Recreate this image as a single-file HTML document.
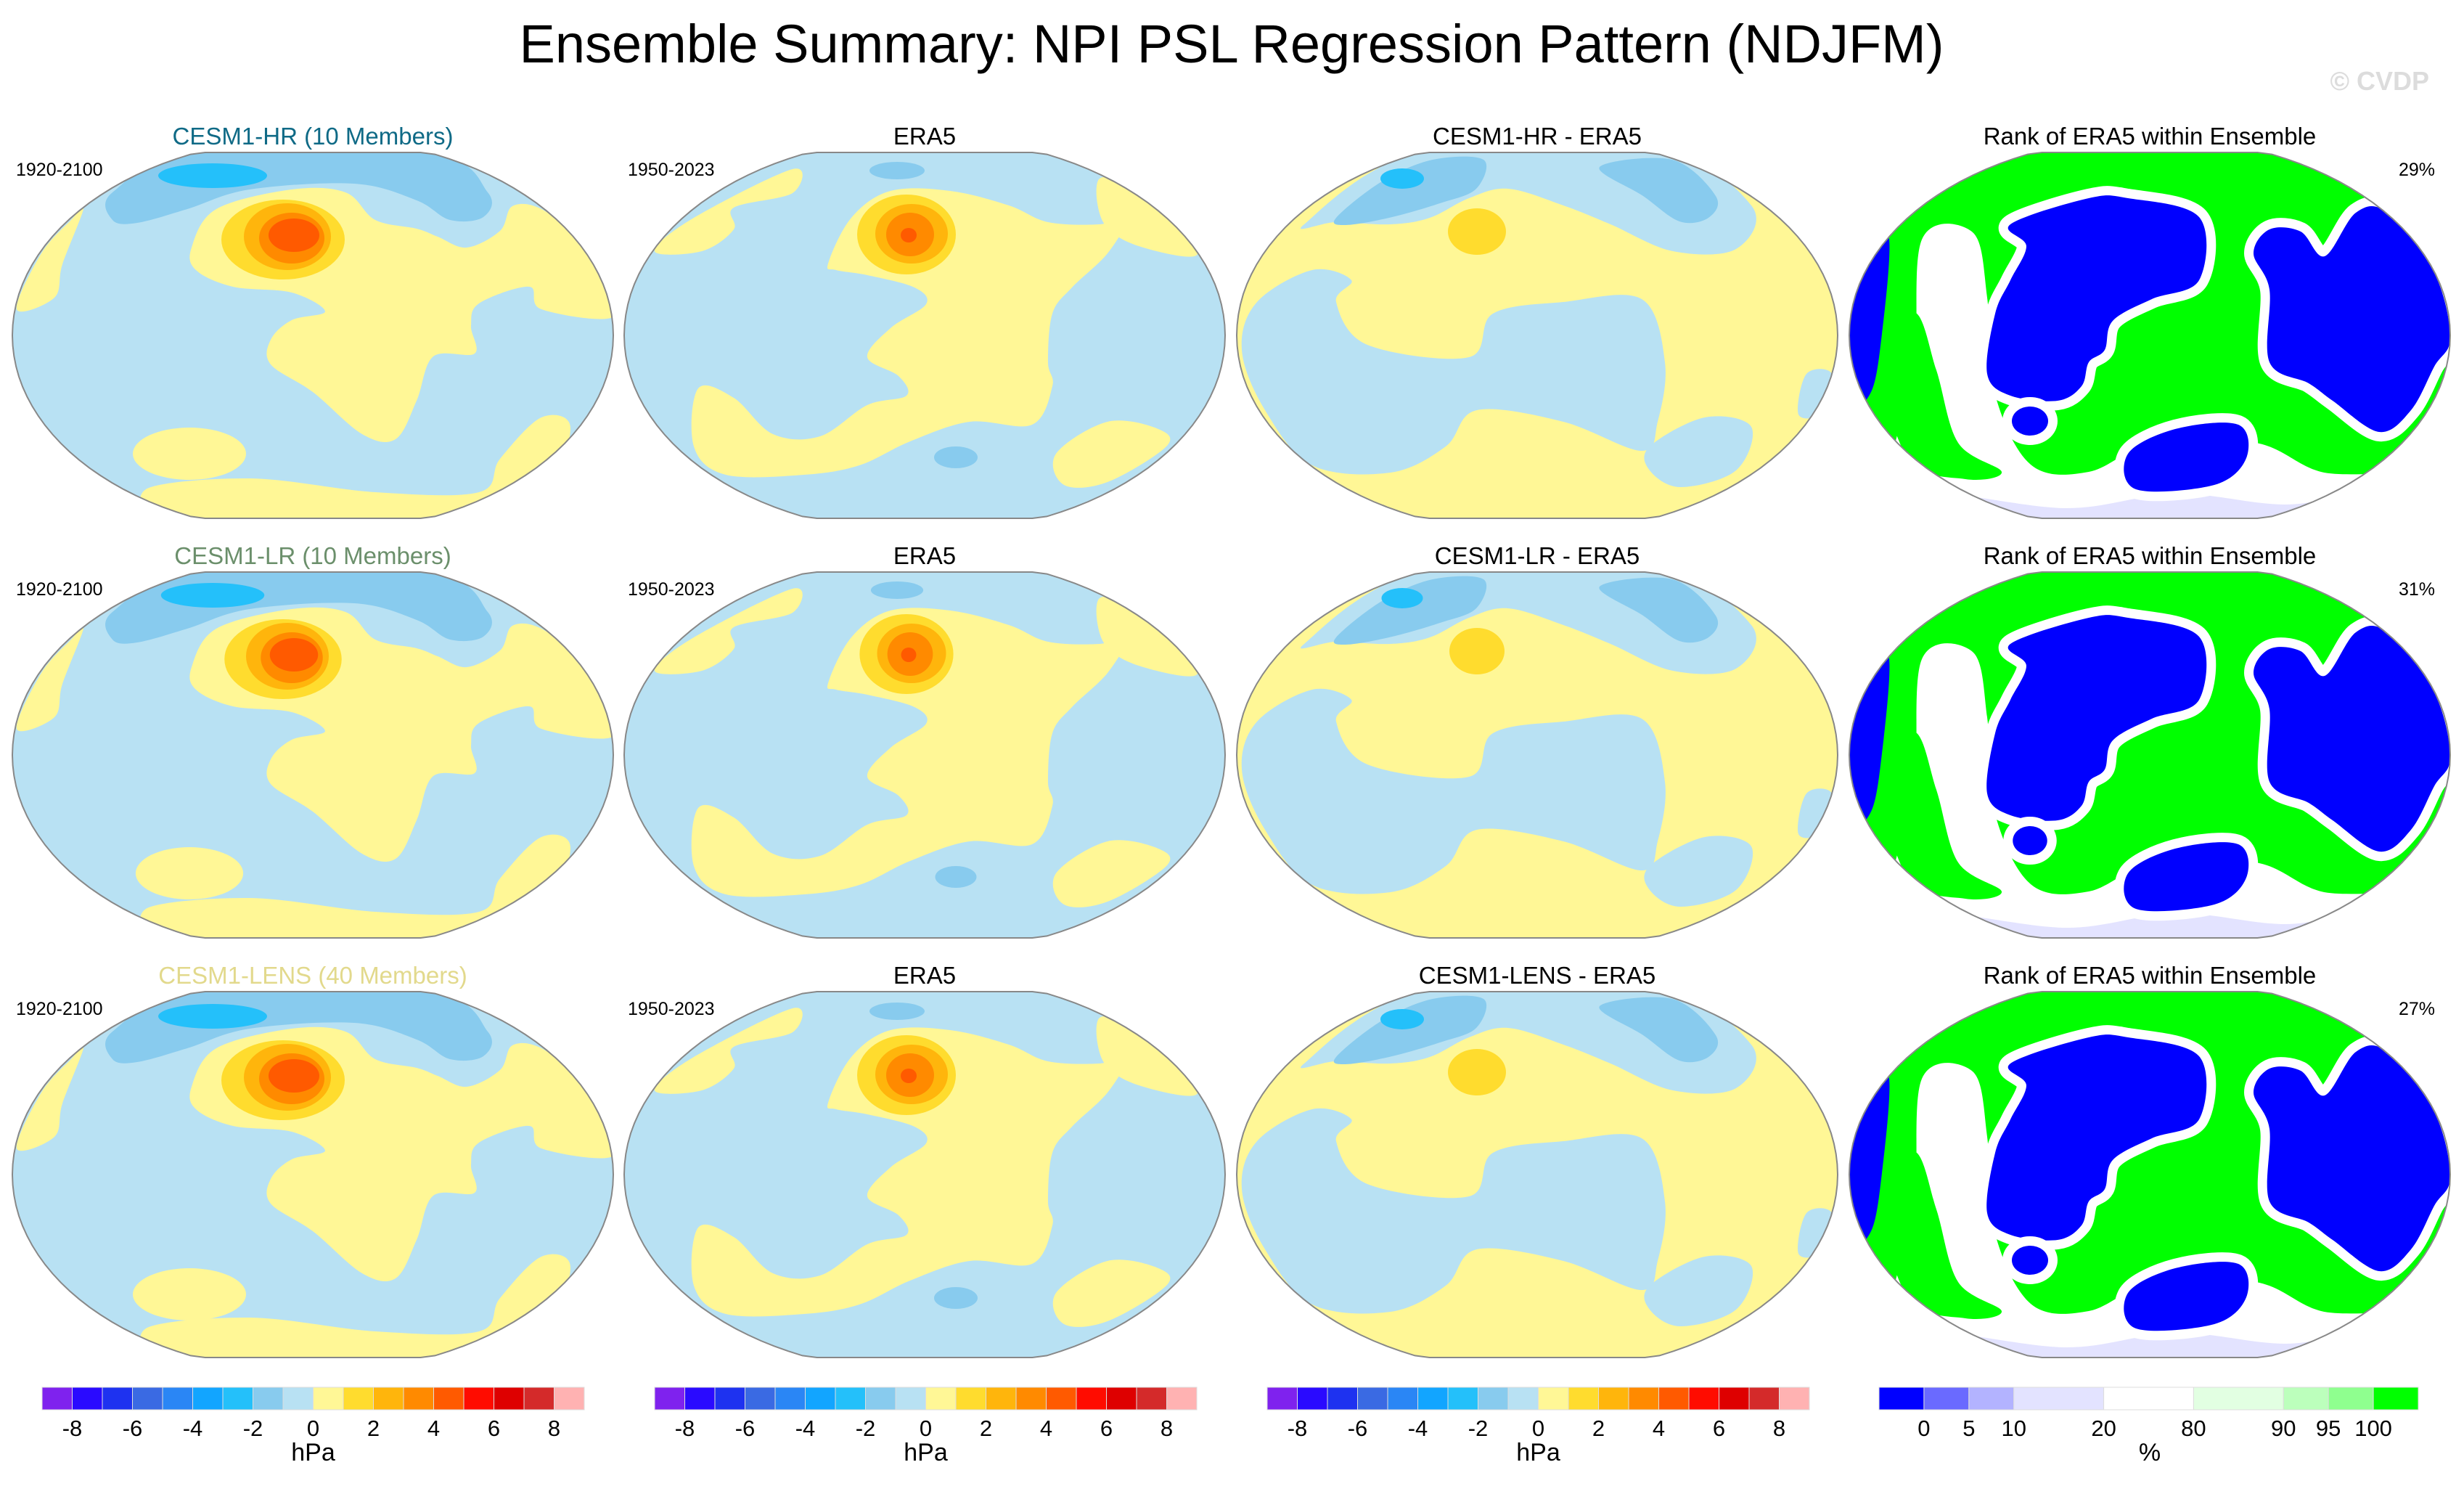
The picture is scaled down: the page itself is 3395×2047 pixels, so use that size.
<!DOCTYPE html>
<html><head><meta charset="utf-8"><style>
html,body{margin:0;padding:0;background:#fff;}
svg{display:block;font-family:"Liberation Sans",Arial,sans-serif;}
</style></head><body>
<svg id="chart" width="3395" height="2047" viewBox="0 0 3395 2047" xmlns="http://www.w3.org/2000/svg">
<text x="1697" y="86" font-size="74" text-anchor="middle" fill="#000">Ensemble Summary: NPI PSL Regression Pattern (NDJFM)</text>
<text x="3347" y="124" font-size="36" font-weight="bold" text-anchor="end" fill="#dcdcdc">© CVDP</text>
<g id="maps"></g>
<g id="bars"></g>
</svg>
<script>
const NS="http://www.w3.org/2000/svg";
const rowTitles=["CESM1-HR (10 Members)","CESM1-LR (10 Members)","CESM1-LENS (40 Members)"];
const rowTitleColors=["#0f6a86","#6b8f6b","#e2d98c"];
const diffTitles=["CESM1-HR - ERA5","CESM1-LR - ERA5","CESM1-LENS - ERA5"];
const rankPercents=["29%","31%","27%"];
const modelYears="1920-2100";
const obsYears="1950-2023";
const hpaColors=["#7f22ee","#2a0aff","#1e32f0","#3a6ae3","#2a86f5","#12a5ff","#24c0fa","#88cbee","#b8e1f3","#fff796","#ffdc2e","#ffb50c","#ff8a00","#ff5a00","#ff0c00","#de0000","#d42a2a","#ffb2b2"];
const hpaTicks=[-8,-6,-4,-2,0,2,4,6,8];
const rankColors=["#0000ff","#6a6aff","#b3b3ff","#e3e3ff","#ffffff","#e2ffe2","#bcffbc","#8fff8f","#00ff00"];
const rankUnits=[1,1,1,2,2,2,1,1,1];
const rankTicks=["0","5","10","20","80","90","95","100"];

const C={lb:"#b8e1f3",y:"#fff796",b2:"#88cbee",b3:"#24c0fa",g1:"#ffdc2e",g2:"#ffb50c",g3:"#ff8a00",g4:"#ff5a00",
 B:"#0000ff",G:"#00ff00",W:"#ffffff",L:"#e3e3ff"};
const shapes={
 psl:[
  {f:C.lb,rect:1},
  {f:C.b2,p:[[138,93],[138,55],[253,1],[574,1],[655,55],[649,89],[603,93],[557,66],[471,43],[327,51],[241,78],[172,97]]},
  {f:C.b3,e:[276,32,75,17]},
  {f:C.y,p:[[247,131],[281,78],[385,51],[459,55],[500,93],[557,105],[586,116],[626,131],[672,108],[689,74],[729,78],[787,124],[821,170],[827,227],[729,216],[712,185],[643,208],[632,239],[637,277],[580,281],[557,342],[528,395],[482,388],[414,330],[356,292],[356,258],[385,231],[431,219],[385,193],[304,185],[253,162]]},
  {f:C.y,e:[244,415,78,36]},
  {f:C.y,p:[[184,464],[327,449],[500,468],[643,468],[672,422],[729,365],[769,380],[729,476],[614,506],[241,506]]},
  {f:C.y,p:[[6,216],[40,139],[81,93],[98,78],[69,154],[58,200]]},
  {f:C.g1,e:[373,120,85,55]},{f:C.g2,e:[379,116,60,46]},{f:C.g3,e:[385,118,45,35]},{f:C.g4,e:[388,114,35,23]}
 ],
 era:[
  {f:C.lb,rect:1},
  {f:C.y,p:[[281,153],[313,90],[367,53],[449,53],[530,73],[584,96],[655,99],[693,90],[666,139],[617,186],[590,222],[584,289],[590,322],[562,375],[476,371],[394,398],[324,431],[248,444],[140,444],[96,405],[102,325],[151,338],[205,388],[270,391],[335,348],[389,335],[378,308],[335,282],[367,242],[416,209],[400,186],[335,169],[292,162]]},
  {f:C.y,p:[[655,36],[709,56],[790,139],[709,129],[660,96]]},
  {f:C.y,p:[[42,136],[96,90],[232,23],[232,56],[151,76],[151,106],[107,136]]},
  {f:C.y,p:[[595,415],[666,371],[736,381],[747,405],[666,454],[606,458]]},
  {f:C.b2,e:[376,25,38,12]},{f:C.b2,e:[457,420,30,15]},
  {f:C.g1,e:[389,113,68,55]},{f:C.g2,e:[396,112,50,41]},{f:C.g3,e:[394,113,33,30]},{f:C.g4,e:[392,114,11,10]}
 ],
 diff:[
  {f:C.y,rect:1},
  {f:C.lb,p:[[93,99],[255,0],[580,0],[709,73],[688,133],[601,136],[515,99],[450,73],[374,50],[320,63],[266,90],[212,99],[137,96]]},
  {f:C.b2,p:[[137,90],[200,40],[270,10],[340,10],[330,50],[280,70],[210,90],[150,100]]},
  {f:C.b2,p:[[500,20],[600,10],[660,60],[650,90],[610,95],[560,60]]},
  {f:C.lb,p:[[28,206],[104,162],[158,176],[137,206],[180,265],[320,282],[353,222],[450,206],[558,202],[590,289],[580,371],[558,411],[450,371],[331,355],[288,405],[212,441],[104,431],[39,355],[7,272]]},
  {f:C.lb,p:[[569,405],[645,365],[709,378],[688,438],[612,461],[569,438]]},
  {f:C.lb,p:[[785,305],[820,305],[807,358],[774,361]]},
  {f:C.b3,e:[228,36,30,14]},
  {f:C.g1,e:[331,109,40,32]}
 ],
 rank:[
  {f:C.G,rect:1},
  {f:C.W,p:[[100,120],[170,110],[190,200],[200,330],[250,430],[330,440],[420,400],[560,400],[650,440],[760,450],[720,520],[100,520],[60,430],[90,300]]},
  {f:C.L,p:[[120,470],[300,490],[450,470],[600,485],[720,470],[680,520],[180,520]]},
  {f:C.G,p:[[40,270],[90,220],[120,300],[150,400],[210,440],[160,450],[80,420]]},
  {f:C.G,p:[[330,290],[360,250],[420,200],[490,190],[560,200],[570,330],[540,380],[470,380],[420,410],[370,400],[340,350]]},
  {f:C.G,e:[690,390,45,40]},
  {f:C.B,s:1,p:[[222,99],[330,63],[384,63],[482,89],[482,176],[417,202],[363,232],[352,272],[330,289],[320,322],[287,342],[222,335],[190,305],[201,222],[222,176],[244,129]]},
  {f:C.B,s:1,p:[[579,106],[622,109],[655,143],[698,83],[741,83],[806,166],[828,255],[806,295],[774,355],[730,385],[666,342],[633,318],[579,289],[579,189],[557,139]]},
  {f:C.B,s:1,p:[[384,415],[449,381],[536,375],[547,421],[503,458],[395,464]]},
  {f:C.B,s:1,e:[249,370,25,20]},
  {f:C.B,p:[[0,160],[30,110],[55,120],[45,250],[30,330],[0,340]]}
 ]
};
const colX=[17,860,1704,2548], rowY=[210,788,1366], MW=828, MH=504;

function smooth(pts){
  const n=pts.length;let d=`M${pts[0][0]},${pts[0][1]}`;
  for(let i=0;i<n;i++){const p0=pts[(i-1+n)%n],p1=pts[i],p2=pts[(i+1)%n],p3=pts[(i+2)%n];
    const c1=[p1[0]+(p2[0]-p0[0])/6,p1[1]+(p2[1]-p0[1])/6],c2=[p2[0]-(p3[0]-p1[0])/6,p2[1]-(p3[1]-p1[1])/6];
    d+=`C${c1[0].toFixed(1)},${c1[1].toFixed(1)} ${c2[0].toFixed(1)},${c2[1].toFixed(1)} ${p2[0]},${p2[1]}`;}
  return d+"Z";
}
function el(tag,attrs,parent){const e=document.createElementNS(NS,tag);for(const k in attrs)e.setAttribute(k,attrs[k]);parent.appendChild(e);return e;}
const outline=()=>{const cx=MW/2,cy=MH/2,rx=414,ry=273;let d="";const N=120;
  for(let i=0;i<=N;i++){const t=2*Math.PI*i/N;let x=cx+rx*Math.cos(t),y=cy+ry*Math.sin(t);y=Math.max(0,Math.min(MH,y));d+=(i?"L":"M")+x.toFixed(1)+","+y.toFixed(1);}return d+"Z";};
const outlineD=outline();
const defs=el("defs",{},document.getElementById("chart"));
const cp=el("clipPath",{id:"mapclip"},defs);el("path",{d:outlineD},cp);

const maps=document.getElementById("maps");
const kinds=["psl","era","diff","rank"];
const kindNames=["model-map","era5-map","difference-map","rank-map"];
rowY.forEach((ry,r)=>{
  kinds.forEach((k,c)=>{
    const g=el("g",{transform:`translate(${colX[c]},${ry})`},maps);
    
    
    const inner=el("g",{"clip-path":"url(#mapclip)"},g);
    shapes[k].forEach(s=>{
      let e;
      if(s.rect) e=el("rect",{x:0,y:0,width:MW,height:MH,fill:s.f},inner);
      else if(s.e) e=el("ellipse",{cx:s.e[0],cy:s.e[1]+(r===2&&k!=="rank"?2:0),rx:s.e[2]*(r===1?0.95:1),ry:s.e[3],fill:s.f},inner);
      else e=el("path",{d:smooth(s.p),fill:s.f},inner);
      if(s.s){e.setAttribute("stroke","#fff");e.setAttribute("stroke-width","26");e.setAttribute("paint-order","stroke");}
    });
    el("path",{d:outlineD,fill:"none",stroke:"#888","stroke-width":2},g);
    const cx=colX[c]+MW/2, ty=ry-11;
    let label, color="#000";
    if(c===0){label=rowTitles[r];color=rowTitleColors[r];}
    else if(c===1) label="ERA5";
    else if(c===2) label=diffTitles[r];
    else label="Rank of ERA5 within Ensemble";
    const t=el("text",{x:cx,y:ty,"font-size":33,"text-anchor":"middle",fill:color},maps);
    t.textContent=label;
    
    
    if(c<2){const y=el("text",{x:colX[c]+5,y:ry+32,"font-size":25,fill:"#000"},maps);
      y.textContent=c===0?modelYears:obsYears;
      
      }
    if(c===3){const p=el("text",{x:3355,y:ry+32,"font-size":25,"text-anchor":"end",fill:"#000"},maps);
      p.textContent=rankPercents[r];
      
      }
  });
});

const bars=document.getElementById("bars");
const barY=1911, barH=31;
const hpaX0=[58,902,1746], hpaW=747/hpaColors.length;
const hpaScale=(i,x0)=>x0+i*hpaW;
hpaX0.forEach((x0,b)=>{
  const g=el("g",{},bars);
  
  
  hpaColors.forEach((col,i)=>{const r=el("rect",{x:hpaScale(i,x0),y:barY,width:hpaW,height:barH,fill:col,stroke:"#ddd","stroke-width":1},g);
    });
  hpaTicks.forEach((v,j)=>{const t=el("text",{x:hpaScale(1+2*j,x0),y:1978,"font-size":31,"text-anchor":"middle",fill:"#000"},g);
    t.textContent=String(v);});
  const u=el("text",{x:hpaScale(9,x0),y:2012,"font-size":34,"text-anchor":"middle",fill:"#000"},g);
  u.textContent="hPa";
});
{
  const g=el("g",{},bars);
  
  
  const x0=2589,total=rankUnits.reduce((a,b)=>a+b,0),uw=743/total;
  let x=x0;const bounds=[];
  rankColors.forEach((col,i)=>{const w=rankUnits[i]*uw;const r=el("rect",{x:x,y:barY,width:w,height:barH,fill:col,stroke:"#ddd","stroke-width":1},g);
    x+=w;bounds.push(x);});
  rankTicks.forEach((lab,j)=>{const t=el("text",{x:bounds[j],y:1978,"font-size":31,"text-anchor":"middle",fill:"#000"},g);
    t.textContent=lab;});
  const u=el("text",{x:2962,y:2012,"font-size":34,"text-anchor":"middle",fill:"#000"},g);
  u.textContent="%";
}
</script>
</body></html>
